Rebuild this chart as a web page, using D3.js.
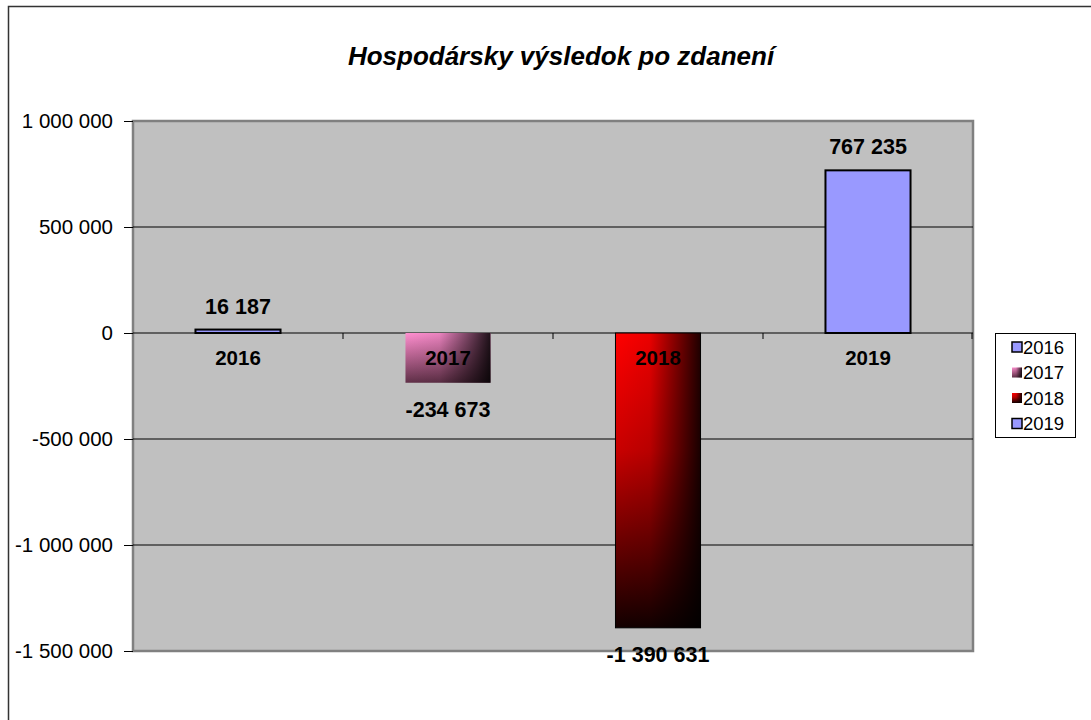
<!DOCTYPE html>
<html>
<head>
<meta charset="utf-8">
<script src="https://cdnjs.cloudflare.com/ajax/libs/d3/7.8.5/d3.min.js"></script>
<style>
html,body{margin:0;padding:0;background:#fff;}
svg{display:block;font-family:"Liberation Sans",Arial,sans-serif;}
</style>
</head>
<body>
<svg id="chart" width="1091" height="720"></svg>
<script>
const title = "Hospodársky výsledok po zdanení";
const categories = ["2016", "2017", "2018", "2019"];
const values = [16187, -234673, -1390631, 767235];
const yTicks = [1000000, 500000, 0, -500000, -1000000, -1500000];
const seriesColors = [
  {id: "g2016", top: "#9999ff", mid: "#9999ff", bottom: "#9999ff", shade: false},
  {id: "g2017", top: "#ff8fd0", mid: "#c06898", bottom: "#603048", shade: true},
  {id: "g2018", top: "#ff0000", mid: "#c80000", bottom: "#120000", shade: true},
  {id: "g2019", top: "#9999ff", mid: "#9999ff", bottom: "#9999ff", shade: false}
];

(function () {
const svg = d3.select("#chart");
const fmt = v => {
  const s = Math.abs(v).toString().replace(/\B(?=(\d{3})+(?!\d))/g, " ");
  return (v < 0 ? "-" : "") + s;
};

// outer border
svg.append("rect").attr("x", 8.5).attr("y", 6.5).attr("width", 1100).attr("height", 800)
  .attr("fill", "#fff").attr("stroke", "#333").attr("stroke-width", 1.5);

const defs = svg.append("defs");
seriesColors.forEach(c => {
  const g = defs.append("linearGradient").attr("id", c.id)
    .attr("x1", 0).attr("y1", 0).attr("x2", 0).attr("y2", 1);
  g.append("stop").attr("offset", "0%").attr("stop-color", c.top);
  g.append("stop").attr("offset", "40%").attr("stop-color", c.mid);
  g.append("stop").attr("offset", "100%").attr("stop-color", c.bottom);
});
const sh = defs.append("linearGradient").attr("id", "shadeH")
  .attr("x1", 0).attr("y1", 0).attr("x2", 1).attr("y2", 0);
sh.append("stop").attr("offset", "0%").attr("stop-color", "#000").attr("stop-opacity", 0);
sh.append("stop").attr("offset", "40%").attr("stop-color", "#000").attr("stop-opacity", 0.08);
sh.append("stop").attr("offset", "100%").attr("stop-color", "#000").attr("stop-opacity", 0.88);

const pl = 133, pr = 973, pt = 121, pb = 651;
const x = d3.scaleBand().domain(categories).range([pl, pr]).paddingInner(0.595).paddingOuter(0.2975);
const y = d3.scaleLinear().domain([-1500000, 1000000]).range([pb, pt]);

// plot area
svg.append("rect").attr("x", pl).attr("y", pt).attr("width", pr - pl).attr("height", pb - pt)
  .attr("fill", "#c0c0c0").attr("stroke", "#808080").attr("stroke-width", 2.5);

// gridlines
svg.append("g").selectAll("line").data(yTicks.filter(t => t !== 1000000 && t !== -1500000)).join("line")
  .attr("x1", pl).attr("x2", pr).attr("y1", d => y(d)).attr("y2", d => y(d))
  .attr("stroke", "#000").attr("stroke-width", 1);

// y axis
const yAxis = d3.axisLeft(y).tickValues(yTicks).tickSize(9).tickPadding(11).tickFormat(fmt);
const ya = svg.append("g").attr("transform", `translate(${pl},0)`).call(yAxis);
ya.select(".domain").remove();
ya.selectAll(".tick line").attr("stroke", "#000");
ya.selectAll(".tick text").attr("font-size", 20.5).attr("fill", "#000")
  .attr("font-family", "Liberation Sans, Arial, sans-serif");

// category tick marks on zero line
const bounds = categories.slice(1).map(c => x(c) - x.step() * x.paddingInner() / 2);
bounds.push(pr - 1);
svg.append("g").selectAll("line").data(bounds).join("line")
  .attr("x1", d => d).attr("x2", d => d).attr("y1", y(0)).attr("y2", y(0) + 6)
  .attr("stroke", "#000");

// bars
const barY = i => Math.min(y(values[i]), y(0));
const barH = i => Math.abs(y(values[i]) - y(0));
const bars = svg.append("g");
bars.selectAll("rect.fill").data(categories).join("rect").attr("class", "fill")
  .attr("x", d => x(d)).attr("width", x.bandwidth())
  .attr("y", (d, i) => barY(i)).attr("height", (d, i) => barH(i))
  .attr("fill", (d, i) => `url(#${seriesColors[i].id})`);
bars.selectAll("rect.shade").data(categories.filter((d, i) => seriesColors[i].shade)).join("rect")
  .attr("class", "shade")
  .attr("x", d => x(d)).attr("width", x.bandwidth())
  .attr("y", d => barY(categories.indexOf(d))).attr("height", d => barH(categories.indexOf(d)))
  .attr("fill", "url(#shadeH)");
bars.selectAll("rect.outline").data(categories).join("rect").attr("class", "outline")
  .attr("x", d => x(d)).attr("width", x.bandwidth())
  .attr("y", (d, i) => barY(i)).attr("height", (d, i) => barH(i))
  .attr("fill", "none")
  .attr("stroke", (d, i) => i === 1 ? "none" : "#000")
  .attr("stroke-width", (d, i) => i === 2 ? 1 : 2);

// category labels
svg.append("g").selectAll("text").data(categories).join("text")
  .attr("x", d => x(d) + x.bandwidth() / 2).attr("y", y(0) + 32)
  .attr("text-anchor", "middle").attr("font-size", 20.5).attr("font-weight", "bold")
  .text(d => d);

// value labels
svg.append("g").selectAll("text").data(categories).join("text")
  .attr("x", d => x(d) + x.bandwidth() / 2)
  .attr("y", (d, i) => values[i] >= 0 ? y(values[i]) - 16 : y(values[i]) + 34)
  .attr("text-anchor", "middle").attr("font-size", 21.5).attr("font-weight", "bold")
  .text((d, i) => fmt(values[i]));

// title
svg.append("text").attr("x", 561).attr("y", 65).attr("text-anchor", "middle")
  .attr("font-size", 26).attr("font-weight", "bold").attr("font-style", "italic")
  .text(title);

// legend
const lg = svg.append("g").attr("transform", "translate(995,333)");
lg.append("rect").attr("x", 0.5).attr("y", 0.5).attr("width", 80).attr("height", 104)
  .attr("fill", "#fff").attr("stroke", "#000");
const items = lg.selectAll("g.item").data(categories).join("g").attr("class", "item")
  .attr("transform", (d, i) => `translate(17,${14 + i * 25.5})`);
items.append("rect").attr("x", 0).attr("y", -5).attr("width", 10).attr("height", 10)
  .attr("fill", (d, i) => `url(#${seriesColors[i].id})`)
  .attr("stroke", (d, i) => (i === 0 || i === 3) ? "#000" : "none").attr("stroke-width", 1.5);
items.filter((d, i) => seriesColors[i].shade).append("rect")
  .attr("x", 0).attr("y", -5).attr("width", 10).attr("height", 10).attr("fill", "url(#shadeH)");
items.append("text").attr("x", 11).attr("y", 6.5).attr("font-size", 18.5).text(d => d);
})();
</script>
</body>
</html>
